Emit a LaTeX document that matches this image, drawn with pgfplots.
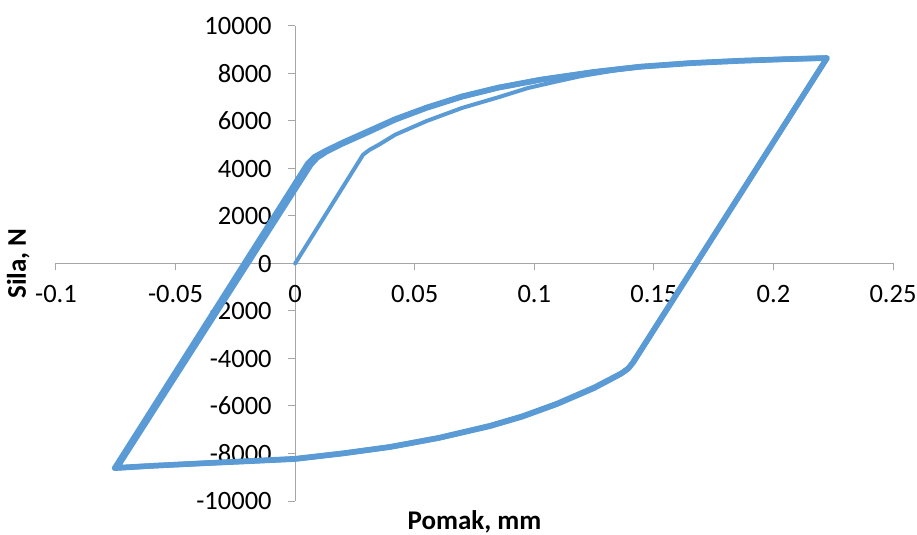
\documentclass[border=0pt]{standalone}
\usepackage{pgfplots}
\pgfplotsset{compat=1.18}
\usepackage{fontspec}
\setmainfont{Carlito}
\definecolor{exblue}{HTML}{5B9BD5}
\definecolor{axgray}{HTML}{A6A6A6}
\begin{document}
\begin{tikzpicture}
\begin{axis}[
  at={(0,0)}, anchor=south west,
  scale only axis, width=837bp, height=475bp,
  xmin=-0.1, xmax=0.25, ymin=-10000, ymax=10000,
  axis lines=middle,
  axis line style={-, draw=axgray, line width=1bp},
  hide obscured x ticks=false, hide obscured y ticks=false,
  scaled y ticks=false, scaled x ticks=false,
  xtick={-0.1,-0.05,0,0.05,0.1,0.15,0.2,0.25},
  xticklabels={-0.1,-0.05,0,0.05,0.1,0.15,0.2,0.25},
  ytick={-10000,-8000,-6000,-4000,-2000,0,2000,4000,6000,8000,10000},
  yticklabels={-10000,-8000,-6000,-4000,-2000,0,2000,4000,6000,8000,10000},
  tick align=outside,
  major tick length=7bp,
  tick style={draw=axgray, line width=1bp},
  ticklabel style={font=\fontsize{26.5bp}{31bp}\selectfont, text=black},
  xticklabel style={yshift=-11bp},
  yticklabel style={xshift=-13bp},
  xlabel={Pomak, mm},
  ylabel={Sila, N},
  xlabel style={at={(axis description cs:0.5,0)}, anchor=center, yshift=-21bp, font=\fontsize{27bp}{32bp}\selectfont\bfseries},
  ylabel style={at={(axis description cs:-0.045,0.5)}, anchor=center, rotate=90, font=\fontsize{27bp}{32bp}\selectfont\bfseries},
  clip=false,
]
% initial loading branch
\addplot[exblue, line width=4bp, line join=round, line cap=round] coordinates {
(0,0) (0.0284,4580) (0.031,4780) (0.035,5000) (0.0418,5420) (0.055,6000)
(0.0698,6550) (0.085,7000) (0.0974,7390) (0.1087,7650) (0.12,7900)
(0.135,8150) (0.15,8330)
};
% hysteresis loop, cycle 1
\addplot[exblue, line width=5.5bp, line join=round, line cap=round] coordinates {
(-0.0745,-8600) (0.0065,4150) (0.0092,4450) (0.013,4700) (0.02,5050)
(0.03,5500) (0.0418,6050) (0.055,6550) (0.0698,7020) (0.085,7400)
(0.1024,7730) (0.125,8060) (0.1442,8280) (0.165,8430) (0.186,8530)
(0.205,8600) (0.2224,8650)
(0.141,-4200) (0.139,-4450) (0.136,-4660) (0.125,-5250) (0.1095,-5920)
(0.095,-6450) (0.0815,-6850) (0.06,-7350) (0.0397,-7730) (0.02,-8000)
(0,-8235) (-0.02,-8330) (-0.0397,-8420) (-0.06,-8520) (-0.0745,-8600)
};
% hysteresis loop, cycle 2 (slightly offset)
\addplot[exblue, line width=5.5bp, line join=round, line cap=round] coordinates {
(-0.0755,-8620) (0.0052,4200) (0.0082,4500) (0.013,4760) (0.02,5100)
(0.03,5550) (0.0418,6080) (0.055,6570) (0.0698,7040) (0.085,7410)
(0.1024,7740) (0.125,8070) (0.1442,8290) (0.165,8440) (0.186,8540)
(0.205,8605) (0.2224,8655)
(0.1415,-4150) (0.1395,-4400) (0.1365,-4620) (0.125,-5220) (0.1095,-5900)
(0.095,-6430) (0.0815,-6830) (0.06,-7340) (0.0397,-7720) (0.02,-7990)
(0,-8220) (-0.02,-8320) (-0.0397,-8415) (-0.06,-8520) (-0.0755,-8620)
};
\end{axis}
\pgfresetboundingbox
\path[use as bounding box] (-56bp,-34bp) rectangle (861bp,501bp);
\end{tikzpicture}
\end{document}
